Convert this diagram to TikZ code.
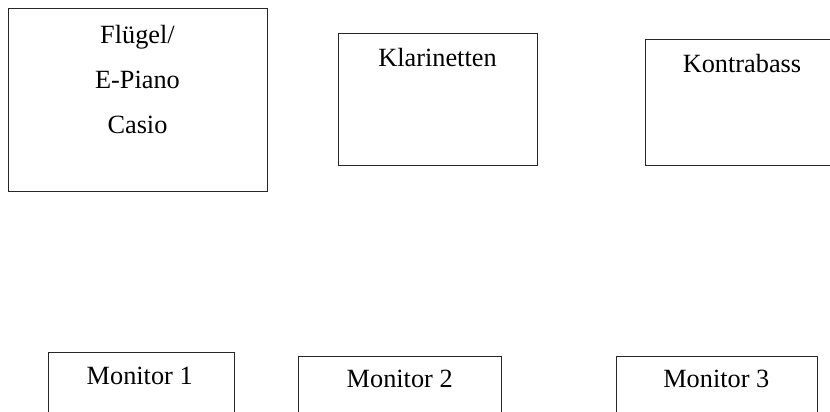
\documentclass[tikz,border=0pt]{standalone}
\usepackage{fontspec}
\setmainfont{Liberation Serif}
\usetikzlibrary{positioning, calc}

\tikzset{
  box/.style={draw=black!85, line width=1pt, inner sep=0pt, anchor=north west},
  lbl/.style={inner sep=0pt, anchor=base, font=\fontsize{26.3}{30}\selectfont}
}

\begin{document}
\begin{tikzpicture}[x=1pt, y=-1pt]
\useasboundingbox (0,0) rectangle (830,412);
\clip (0,0) rectangle (830,412);

% Instruments
\node[box, minimum width=259pt, minimum height=182.5pt] (flbox) at (8,8) {};
\foreach \t [count=\i] in {Flügel/, E-Piano, Casio}
  \node[lbl] (fl\i) at (137.5, {43.3+45*(\i-1)}) {\t};

\node[box, minimum width=199pt, minimum height=132.6pt] (klbox) at (338,32.7) {};
\node[lbl] (kl) at (437.5,66.7) {Klarinetten};

\node[box, minimum width=195pt, minimum height=125.7pt] (kobox) at (645,39.3) {};
\node[lbl] (ko) at (742,72.3) {Kontrabass};

% Monitors
\node[box, minimum width=186pt, minimum height=70pt] (mon1) at (48,351.7) {};
\node[lbl] (m1) at (139.7,384) {Monitor 1};

\node[box, minimum width=203pt, minimum height=70pt] (mon2) at (298.3,355.7) {};
\node[lbl] (m2) at (399.7,387.3) {Monitor 2};

\node[box, minimum width=201pt, minimum height=70pt] (mon3) at (616,355.7) {};
\node[lbl] (m3) at (716.3,387.3) {Monitor 3};
\end{tikzpicture}
\end{document}
